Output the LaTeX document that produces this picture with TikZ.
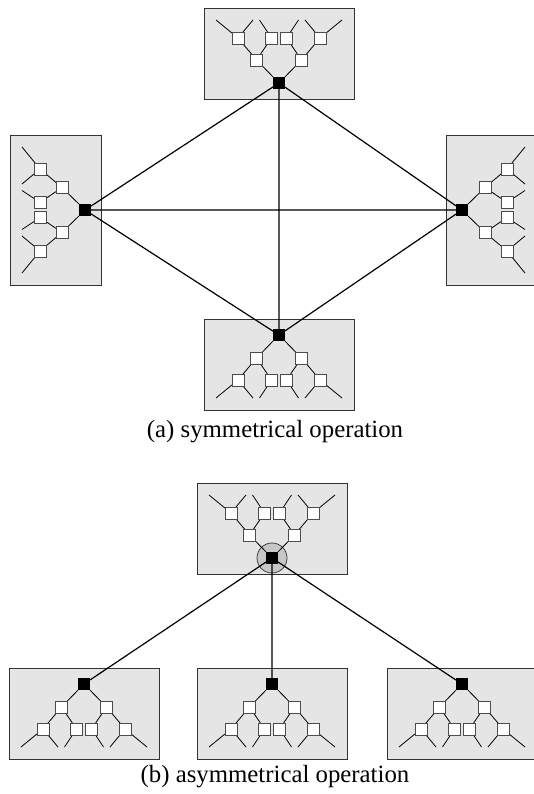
\documentclass[tikz,border=0pt]{standalone}
\usepackage{fontspec}
\setmainfont{Liberation Serif}
\pgfdeclarelayer{bg}
\pgfdeclarelayer{edges}
\pgfsetlayers{bg,edges,main}
\tikzset{
  sq/.style={draw=black!70, fill=white, minimum size=12pt, inner sep=0pt, outer sep=0pt, line width=0.9pt},
  rootsq/.style={fill=black, minimum size=12pt, inner sep=0pt, outer sep=0pt},
  panel/.style={fill=black!10, draw=black!80, line width=0.9pt},
  tline/.style={line width=0.8pt},
  link/.style={line width=1.2pt},
  hubring/.style={circle, draw=black!75, fill=black!22, minimum size=30pt, inner sep=0pt, line width=0.8pt},
  captext/.style={font=\fontsize{24.8}{29}\selectfont, inner sep=0pt}
}
% named point in the tree frame: #1 name, along #2, across #3
\newcommand\mkpt[3]{%
  \pgfmathsetmacro\px{\rx+(#2)*(\ax)+(#3)*(\cx)}%
  \pgfmathsetmacro\py{\ry+(#2)*(\ay)+(#3)*(\cy)}%
  \coordinate (#1) at (\px,\py);}
% #1 name, #2 rx, #3 ry, #4 ax, #5 ay (along), #6 cx, #7 cy (across)
\newcommand\mktree[7]{%
  \def\rx{#2}\def\ry{#3}\def\ax{#4}\def\ay{#5}\def\cx{#6}\def\cy{#7}%
  \mkpt{#1-k1}{-16}{-75}\mkpt{#1-k2}{-16}{75}\mkpt{#1-k3}{75}{75}\mkpt{#1-k4}{75}{-75}%
  \begin{pgfonlayer}{bg}
    \draw[panel] (#1-k1) -- (#1-k2) -- (#1-k3) -- (#1-k4) -- cycle;
  \end{pgfonlayer}
  \mkpt{#1-p1}{23}{-22.5}\mkpt{#1-p2}{23}{22.5}%
  \mkpt{#1-p11}{45}{-41}\mkpt{#1-p12}{45}{-7.5}\mkpt{#1-p21}{45}{7.5}\mkpt{#1-p22}{45}{41}%
  \mkpt{#1-l1}{63}{-63}\mkpt{#1-l2}{63}{-26}\mkpt{#1-l3}{63}{-19.5}%
  \mkpt{#1-l4}{63}{19.5}\mkpt{#1-l5}{63}{26}\mkpt{#1-l6}{63}{63}%
  \node[rootsq] (#1) at (\rx,\ry) {};
  \node[sq] (#1-1) at (#1-p1) {};
  \node[sq] (#1-2) at (#1-p2) {};
  \node[sq] (#1-11) at (#1-p11) {};
  \node[sq] (#1-12) at (#1-p12) {};
  \node[sq] (#1-21) at (#1-p21) {};
  \node[sq] (#1-22) at (#1-p22) {};
  \begin{pgfonlayer}{edges}
    \draw[tline] (#1) -- (#1-1) (#1) -- (#1-2)
      (#1-1) -- (#1-11) (#1-1) -- (#1-12)
      (#1-2) -- (#1-21) (#1-2) -- (#1-22)
      (#1-11) -- (#1-l1) (#1-11) -- (#1-l2)
      (#1-12) -- (#1-l3) (#1-21) -- (#1-l4)
      (#1-22) -- (#1-l5) (#1-22) -- (#1-l6);
  \end{pgfonlayer}
}
\begin{document}
\begin{tikzpicture}[x=1pt,y=-1pt]
  \useasboundingbox (0,0) rectangle (534,794);
  % (a) symmetrical operation
  \mktree{at}{279}{83}{0}{-1}{1}{0}
  \mktree{al}{85}{210}{-1}{0}{0}{1}
  \mktree{ar}{462}{210}{1}{0}{0}{1}
  \mktree{ab}{279}{335}{0}{1}{1}{0}
  \begin{pgfonlayer}{edges}
    \draw[link] (at) -- (al) (at) -- (ar) (at) -- (ab)
      (al) -- (ar) (al) -- (ab) (ar) -- (ab);
  \end{pgfonlayer}
  \node[captext] (capa) at (275,432) {(a) symmetrical operation};
  % (b) asymmetrical operation
  \mktree{bt}{272}{558}{0}{-1}{1}{0}
  \begin{pgfonlayer}{bg}
    \node[hubring] (hub) at (272,558) {};
  \end{pgfonlayer}
  \mktree{b1}{84}{684}{0}{1}{1}{0}
  \mktree{b2}{272}{684}{0}{1}{1}{0}
  \mktree{b3}{462}{684}{0}{1}{1}{0}
  \begin{pgfonlayer}{edges}
    \draw[link] (bt) -- (b1) (bt) -- (b2) (bt) -- (b3);
  \end{pgfonlayer}
  \node[captext] (capb) at (275,777) {(b) asymmetrical operation};
\end{tikzpicture}
\end{document}
